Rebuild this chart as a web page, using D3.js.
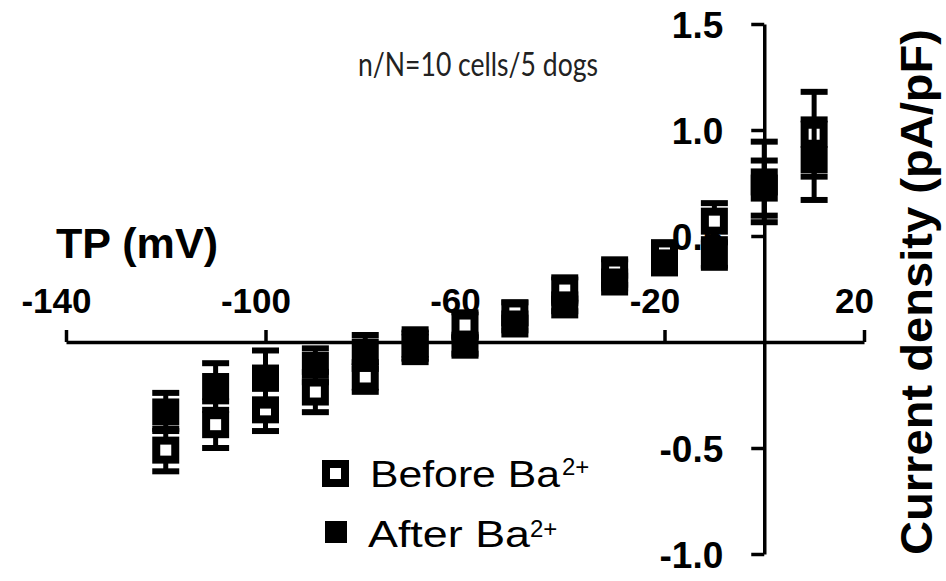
<!DOCTYPE html>
<html>
<head>
<meta charset="utf-8">
<script src="https://cdn.jsdelivr.net/npm/d3@7"></script>
<style>
  html, body { margin: 0; padding: 0; background: #fff; }
  svg { display: block; }
</style>
</head>
<body>
<script>
// ---- data ----
const voltages   = [-120, -110, -100, -90, -80, -70, -60, -50, -40, -30, -20, -10, 0, 10];
const beforeBa   = [-0.51, -0.39, -0.32, -0.236, -0.165, -0.01, 0.08, 0.137, 0.245, 0.33, 0.42, 0.57, 0.755, 0.98];
const beforeSem  = [0.10, 0.11, 0.10, 0.095, 0.07, 0.07, 0.06, 0.05, 0.06, 0.06, 0.05, 0.085, 0.19, 0.20];
const afterBa    = [-0.33, -0.21, -0.17, -0.11, -0.047, -0.025, -0.015, 0.085, 0.175, 0.283, 0.373, 0.41, 0.726, 0.86];
const afterSem   = [0.09, 0.11, 0.13, 0.08, 0.08, 0.07, 0.04, 0.03, 0.03, 0.03, 0.03, 0.06, 0.13, 0.19];
const xTicks     = [-140, -100, -60, -20, 20];
const yTicks     = [-1.0, -0.5, 0.5, 1.0, 1.5];
const xTitle     = "TP (mV)";
const yTitle     = "Current density (pA/pF)";
const note       = "n/N=10 cells/5 dogs";
const seriesNames = ["Before Ba", "After Ba"];
const superscript = "2+";

const W = 946, H = 581;
const font = "'Liberation Sans', Arial, Helvetica, sans-serif";

const svg = d3.select("body").append("svg").attr("width", W).attr("height", H);

const x = d3.scaleLinear().domain([-140, 20]).range([66, 864]);
const y = d3.scaleLinear().domain([-1, 1.5]).range([554, 24]);

// ---- axes ----
const xAxis = svg.append("g")
  .attr("transform", `translate(0,${y(0)})`)
  .call(d3.axisTop(x).tickValues(xTicks).tickSizeInner(12).tickSizeOuter(0)
        .tickPadding(17).tickFormat(d => String(d)));
xAxis.selectAll("path, line").attr("stroke", "#000").attr("stroke-width", 3.5);
xAxis.selectAll("text").attr("fill", "#000").attr("font-family", font)
  .attr("font-weight", "bold").attr("font-size", 35).attr("dx", -10);

const yAxis = svg.append("g")
  .attr("transform", `translate(${x(0)},0)`)
  .call(d3.axisLeft(y).tickValues(yTicks).tickSizeInner(13).tickSizeOuter(0)
        .tickPadding(28).tickFormat(d => d.toFixed(1)));
yAxis.selectAll("path, line").attr("stroke", "#000").attr("stroke-width", 3.5);
yAxis.selectAll("text").attr("fill", "#000").attr("font-family", font)
  .attr("font-weight", "bold").attr("font-size", 37).attr("dy", "0.36em");

// titles
svg.append("text").attr("x", 56).attr("y", 258)
  .attr("font-family", font).attr("font-weight", "bold").attr("font-size", 42)
  .attr("textLength", 162).attr("lengthAdjust", "spacingAndGlyphs")
  .text(xTitle);

svg.append("text")
  .attr("transform", `translate(932,292) rotate(-90)`)
  .attr("text-anchor", "middle")
  .attr("font-family", font).attr("font-weight", "bold").attr("font-size", 45)
  .attr("textLength", 526).attr("lengthAdjust", "spacingAndGlyphs")
  .text(yTitle);

svg.append("text").attr("x", 358).attr("y", 76)
  .attr("font-family", "Lato, 'Open Sans', sans-serif").attr("font-size", 33)
  .attr("fill", "#222")
  .attr("textLength", 240).attr("lengthAdjust", "spacingAndGlyphs")
  .text(note);

// ---- data marks ----
function drawSeries(vals, sems, filled) {
  const g = svg.append("g");
  const data = voltages.map((v, i) => ({ v, m: vals[i], s: sems[i] }));
  const eb = g.selectAll("g.eb").data(data).join("g");
  eb.append("line")
    .attr("x1", d => x(d.v)).attr("x2", d => x(d.v))
    .attr("y1", d => y(d.m - d.s)).attr("y2", d => y(d.m + d.s))
    .attr("stroke", "#000").attr("stroke-width", 5);
  eb.append("line")
    .attr("x1", d => x(d.v) - 13.5).attr("x2", d => x(d.v) + 13.5)
    .attr("y1", d => y(d.m + d.s)).attr("y2", d => y(d.m + d.s))
    .attr("stroke", "#000").attr("stroke-width", 6);
  eb.append("line")
    .attr("x1", d => x(d.v) - 13.5).attr("x2", d => x(d.v) + 13.5)
    .attr("y1", d => y(d.m - d.s)).attr("y2", d => y(d.m - d.s))
    .attr("stroke", "#000").attr("stroke-width", 6);
  if (filled) {
    g.selectAll("rect.mk").data(data).join("rect")
      .attr("x", d => x(d.v) - 13.5).attr("y", d => y(d.m) - 13.5)
      .attr("width", 27).attr("height", 27).attr("fill", "#000");
  } else {
    g.selectAll("rect.mk").data(data).join("rect")
      .attr("x", d => x(d.v) - 9.5).attr("y", d => y(d.m) - 9.5)
      .attr("width", 19).attr("height", 19)
      .attr("fill", "#fff").attr("stroke", "#000").attr("stroke-width", 8);
  }
}
drawSeries(beforeBa, beforeSem, false);
drawSeries(afterBa, afterSem, true);

// ---- legend ----
const leg = svg.append("g");
leg.append("rect").attr("x", 326).attr("y", 464).attr("width", 19).attr("height", 19)
  .attr("fill", "#fff").attr("stroke", "#000").attr("stroke-width", 8);
leg.append("rect").attr("x", 325).attr("y", 521).attr("width", 22).attr("height", 22)
  .attr("fill", "#000");
leg.append("text").attr("x", 370).attr("y", 487)
  .attr("font-family", font).attr("font-size", 36)
  .attr("textLength", 190).attr("lengthAdjust", "spacingAndGlyphs")
  .text(seriesNames[0]);
leg.append("text").attr("x", 562).attr("y", 475)
  .attr("font-family", font).attr("font-size", 24)
  .text(superscript);
leg.append("text").attr("x", 368).attr("y", 547)
  .attr("font-family", font).attr("font-size", 36)
  .attr("textLength", 162).attr("lengthAdjust", "spacingAndGlyphs")
  .text(seriesNames[1]);
leg.append("text").attr("x", 530).attr("y", 537)
  .attr("font-family", font).attr("font-size", 24)
  .text(superscript);
</script>
</body>
</html>
